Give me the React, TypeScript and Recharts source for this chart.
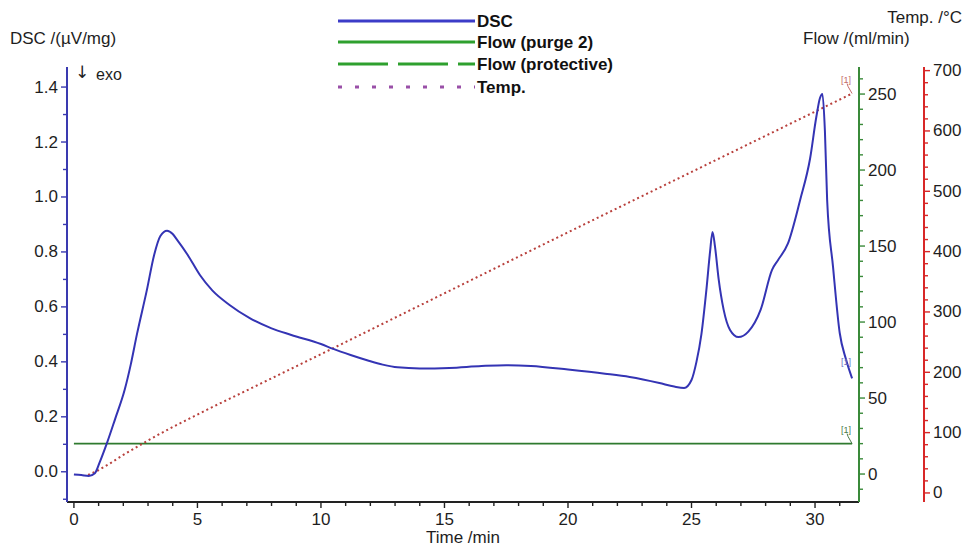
import React from 'react';
import { ComposedChart, Line, XAxis, YAxis, Legend } from 'recharts';

// ---- data ----
const dscPoints: [number, number][] = [
  [0, -0.01], [0.3, -0.012], [0.6, -0.015], [0.85, -0.005], [1.05, 0.036], [1.34, 0.105],
  [1.66, 0.19], [2.06, 0.3], [2.3, 0.39], [2.55, 0.5], [2.95, 0.66], [3.25, 0.79],
  [3.5, 0.858], [3.77, 0.877], [4.0, 0.865], [4.17, 0.845], [4.6, 0.79], [5.1, 0.716],
  [5.6, 0.66], [6.3, 0.607], [7.1, 0.56], [8.0, 0.522], [8.8, 0.498], [10.0, 0.465],
  [10.5, 0.447], [11.2, 0.425], [11.9, 0.405], [12.5, 0.39], [13.1, 0.38], [14.0, 0.376],
  [15.2, 0.378], [16.5, 0.385], [17.5, 0.388], [18.5, 0.385], [20.0, 0.372], [21.5, 0.357],
  [22.5, 0.345], [23.7, 0.323], [24.3, 0.31], [24.7, 0.305], [25.0, 0.334], [25.2, 0.4],
  [25.4, 0.5], [25.6, 0.66], [25.75, 0.8], [25.85, 0.873], [25.95, 0.82], [26.1, 0.7],
  [26.3, 0.59], [26.56, 0.516], [26.9, 0.49], [27.3, 0.51], [27.8, 0.59], [28.26, 0.735],
  [28.5, 0.77], [28.9, 0.83], [29.4, 0.99], [29.8, 1.14], [30.05, 1.29], [30.2, 1.36],
  [30.3, 1.375], [30.4, 1.24], [30.49, 0.99], [30.73, 0.745], [31.0, 0.505], [31.25, 0.41],
  [31.5, 0.34],
];
const flowPurgePoints: [number, number][] = [[0, 20], [31.5, 20]];
const tempPoints: [number, number][] = [
  [0.57, 30], [1.0, 38], [1.5, 50], [2.0, 63], [2.5, 75], [3.0, 87], [5.0, 130],
  [7.1, 172], [10.0, 230], [15.2, 335], [20.0, 432], [25.0, 532], [31.5, 662],
];

const timeTicks = [0, 1, 2, 3, 4, 5, 6, 7, 8, 9, 10, 11, 12, 13, 14, 15, 16, 17, 18, 19, 20, 21, 22, 23, 24, 25, 26, 27, 28, 29, 30, 31];
const dscTicks = [-0.1, 0, 0.1, 0.2, 0.3, 0.4, 0.5, 0.6, 0.7, 0.8, 0.9, 1.0, 1.1, 1.2, 1.3, 1.4];
const flowTicks = [-10, 0, 10, 20, 30, 40, 50, 60, 70, 80, 90, 100, 110, 120, 130, 140, 150, 160, 170, 180, 190, 200, 210, 220, 230, 240, 250, 260];
const tempTicks = [0, 20, 40, 60, 80, 100, 120, 140, 160, 180, 200, 220, 240, 260, 280, 300, 320, 340, 360, 380, 400, 420, 440, 460, 480, 500, 520, 540, 560, 580, 600, 620, 640, 660, 680, 700];

const dscData = dscPoints.map(([t, v]) => ({ t, v }));
const flowData = flowPurgePoints.map(([t, v]) => ({ t, v }));
const tempData = tempPoints.map(([t, v]) => ({ t, v }));

// ---- styles ----
const FONT = '"Liberation Sans", Arial, sans-serif';
const TXT = '#1e1e1e';
const DSC_C = '#3434b4';
const DSC_AXIS = '#3a3ab0';
const FLOW_C = '#2f7a2f';
const FLOW_AXIS = '#3a8a3a';
const TEMP_C = '#b8403c';
const TEMP_AXIS = '#d82828';

const isMult = (v: number, step: number) => Math.abs(v / step - Math.round(v / step)) < 1e-6;

const LeftTick = (props: any) => {
  const { x, y, payload } = props;
  const v = payload.value as number;
  const major = isMult(v, 0.2);
  return (
    <g>
      <line x1={x} y1={y} x2={x - (major ? 6 : 4)} y2={y} stroke={DSC_AXIS} strokeWidth={1.4} />
      {major && (
        <text x={x - 9} y={y} textAnchor="end" dominantBaseline="central" fontFamily={FONT} fontSize={17} fill={TXT}>
          {v.toFixed(1)}
        </text>
      )}
    </g>
  );
};

const BottomTick = (props: any) => {
  const { x, y, payload } = props;
  const v = payload.value as number;
  const major = isMult(v, 5);
  return (
    <g>
      <line x1={x} y1={y} x2={x} y2={y + (major ? 6 : 4)} stroke="#222" strokeWidth={1.4} />
      {major && (
        <text x={x} y={y + 17} textAnchor="middle" dominantBaseline="central" fontFamily={FONT} fontSize={17} fill={TXT}>
          {v}
        </text>
      )}
    </g>
  );
};

const makeRightTick = (color: string, step: number) => (props: any) => {
  const { x, y, payload } = props;
  const v = payload.value as number;
  const major = isMult(v, step);
  return (
    <g>
      <line x1={x} y1={y} x2={x + (major ? 6 : 4)} y2={y} stroke={color} strokeWidth={1.4} />
      {major && (
        <text x={x + 9} y={y} textAnchor="start" dominantBaseline="central" fontFamily={FONT} fontSize={17} fill={TXT}>
          {v}
        </text>
      )}
    </g>
  );
};
const FlowTick = makeRightTick(FLOW_AXIS, 50);
const TempTick = makeRightTick(TEMP_AXIS, 100);

const makeEndDot = (n: number, color: string, withLeader: boolean, dy: number) => (props: any) => {
  const { cx, cy, index } = props;
  if (index !== n - 1) return <g key={`d${index}`} />;
  return (
    <g key={`d${index}`}>
      {withLeader && <polyline points={`${cx - 5},${cy - 10} ${cx - 4},${cy - 7} ${cx},${cy}`} fill="none" stroke={color} strokeWidth={1} />}
      <text x={cx - 6} y={cy + dy} textAnchor="middle" dominantBaseline="central" fontFamily={FONT} fontSize={9} fill={color}>
        [1]
      </text>
    </g>
  );
};

const legendItems = [
  { name: 'DSC', color: '#3c3cc8', dash: undefined as string | undefined },
  { name: 'Flow (purge 2)', color: '#2ea02e', dash: undefined },
  { name: 'Flow (protective)', color: '#2ea02e', dash: '50 10' },
  { name: 'Temp.', color: '#9a50a8', dash: '4 13' },
];
const legendRowY = [21, 42, 64, 87];

const LegendContent = () => (
  <svg width={330} height={100} style={{ display: 'block' }}>
    {legendItems.map((it, i) => (
      <g key={it.name}>
        <line x1={8} x2={145} y1={legendRowY[i]} y2={legendRowY[i]} stroke={it.color} strokeWidth={3} strokeDasharray={it.dash} />
        <text x={147} y={legendRowY[i]} dominantBaseline="central" fontFamily={FONT} fontWeight="bold" fontSize={17} fill="#111">
          {it.name}
        </text>
      </g>
    ))}
  </svg>
);

export default function App() {
  return (
    <div style={{ position: 'absolute', left: 0, top: 0, width: 967, height: 547, background: '#fff' }}>
      <ComposedChart width={967} height={547} margin={{ top: 67, right: 0, bottom: 0, left: 0 }}>
        <XAxis
          xAxisId="t"
          type="number"
          dataKey="t"
          domain={[-0.28, 31.78]}
          allowDataOverflow
          ticks={timeTicks}
          interval={0}
          height={45}
          tickSize={0}
          tickMargin={0}
          tick={<BottomTick />}
          axisLine={{ stroke: '#222', strokeWidth: 2 }}
          tickLine={false}
        />
        <YAxis
          yAxisId="dsc"
          orientation="left"
          type="number"
          width={67}
          domain={[-0.11, 1.473]}
          allowDataOverflow
          ticks={dscTicks}
          interval={0}
          tickSize={0}
          tickMargin={0}
          tick={<LeftTick />}
          axisLine={{ stroke: DSC_AXIS, strokeWidth: 2 }}
          tickLine={false}
        />
        <YAxis
          yAxisId="flow"
          orientation="right"
          type="number"
          width={65}
          domain={[-18.4, 267.8]}
          allowDataOverflow
          ticks={flowTicks}
          interval={0}
          tickSize={0}
          tickMargin={0}
          tick={<FlowTick />}
          axisLine={{ stroke: FLOW_AXIS, strokeWidth: 2 }}
          tickLine={false}
        />
        <YAxis
          yAxisId="temp"
          orientation="right"
          type="number"
          width={43}
          domain={[-15, 706]}
          allowDataOverflow
          ticks={tempTicks}
          interval={0}
          tickSize={0}
          tickMargin={0}
          tick={<TempTick />}
          axisLine={{ stroke: TEMP_AXIS, strokeWidth: 2 }}
          tickLine={false}
        />
        <Legend
          layout="vertical"
          align="center"
          verticalAlign="middle"
          content={<LegendContent />}
          wrapperStyle={{ top: 0, left: 330, width: 330, height: 100 }}
        />
        <Line
          xAxisId="t"
          yAxisId="flow"
          data={flowData}
          dataKey="v"
          name="Flow (purge 2)"
          type="linear"
          stroke={FLOW_C}
          strokeWidth={1.6}
          dot={makeEndDot(flowData.length, '#4a7a4a', true, -14)}
          activeDot={false}
          isAnimationActive={false}
        />
        <Line
          xAxisId="t"
          yAxisId="temp"
          data={tempData}
          dataKey="v"
          name="Temp."
          type="monotone"
          stroke={TEMP_C}
          strokeWidth={2}
          strokeDasharray="2 3"
          dot={makeEndDot(tempData.length, '#c46a6a', true, -14)}
          activeDot={false}
          isAnimationActive={false}
        />
        <Line
          xAxisId="t"
          yAxisId="dsc"
          data={dscData}
          dataKey="v"
          name="DSC"
          type="monotone"
          stroke={DSC_C}
          strokeWidth={2}
          dot={makeEndDot(dscData.length, '#6a6ac0', false, -16)}
          activeDot={false}
          isAnimationActive={false}
        />
      </ComposedChart>
      <svg width={967} height={547} style={{ position: 'absolute', left: 0, top: 0, pointerEvents: 'none' }}>
        <text x={10} y={38} dominantBaseline="central" fontFamily={FONT} fontSize={17} fill={TXT}>DSC /(µV/mg)</text>
        <text x={962} y={17} textAnchor="end" dominantBaseline="central" fontFamily={FONT} fontSize={17} fill={TXT}>Temp. /°C</text>
        <text x={803} y={38} dominantBaseline="central" fontFamily={FONT} fontSize={17} fill={TXT}>Flow /(ml/min)</text>
        <text x={463} y={537} textAnchor="middle" dominantBaseline="central" fontFamily={FONT} fontSize={17} fill={TXT}>Time /min</text>
        <text x={75} y={72} dominantBaseline="central" fontFamily='"DejaVu Sans", sans-serif' fontSize={17} fill={TXT}>↓</text>
        <text x={96} y={74} dominantBaseline="central" fontFamily={FONT} fontSize={16} fill={TXT}>exo</text>
      </svg>
    </div>
  );
}
